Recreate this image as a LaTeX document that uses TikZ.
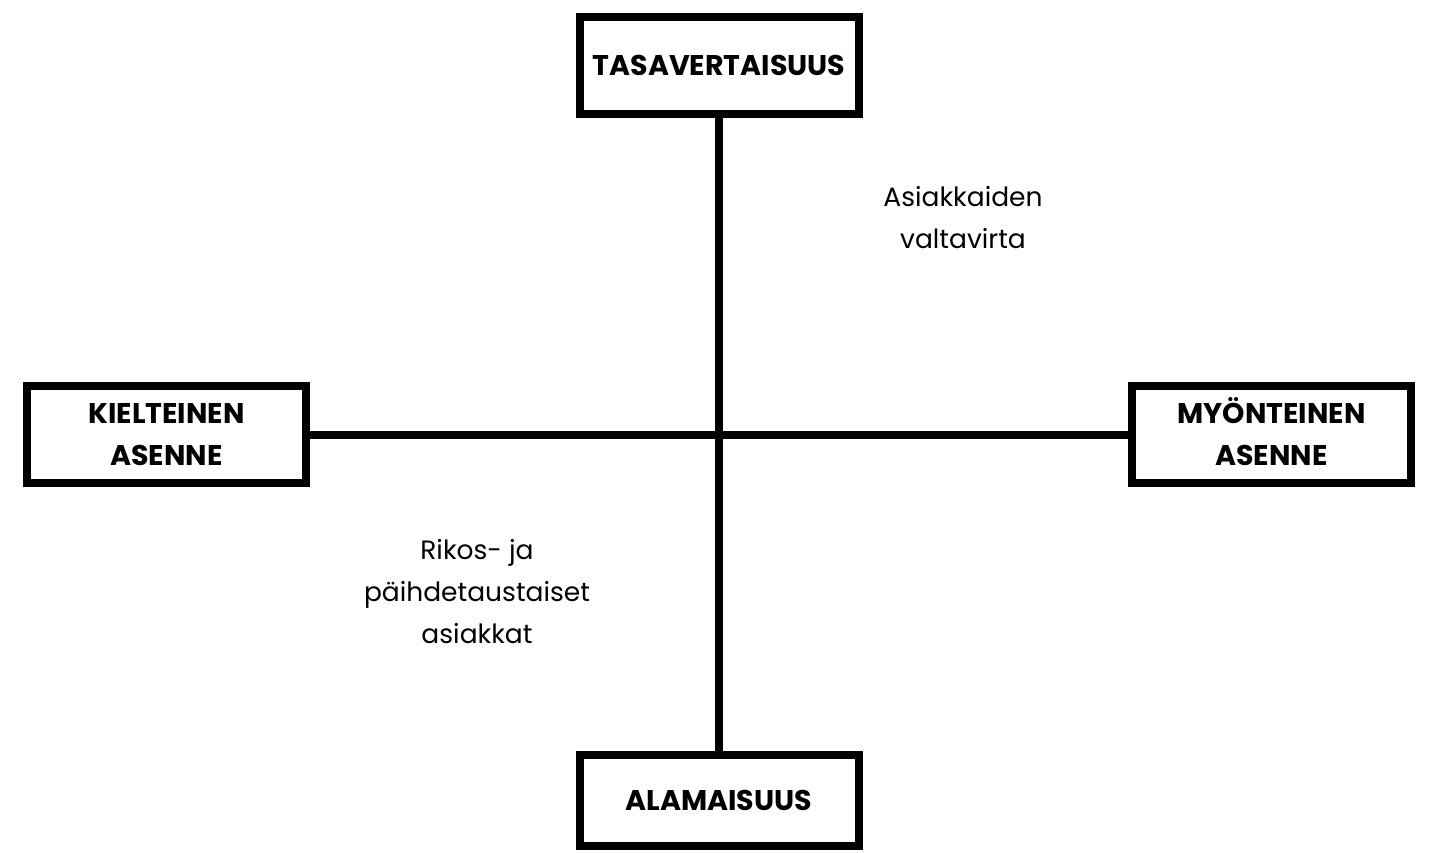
\documentclass[tikz,border=0pt]{standalone}
\usepackage{fontspec}
\setmainfont{Poppins}
\begin{document}
\begin{tikzpicture}[x=1pt,y=-1pt,
  box/.style={draw=black, line width=8pt, fill=white, minimum width=279pt, minimum height=97pt, inner sep=0pt, align=center, font=\fontsize{28.5}{42}\selectfont\bfseries},
  lbl/.style={align=center, inner sep=0pt, font=\fontsize{26.5}{42}\selectfont},
  axis/.style={line width=8pt}]
\useasboundingbox (0,0) rectangle (1430,852);
\fill[white] (0,0) rectangle (1430,852);
\node[box] (top) at (719,65) {\raisebox{-2pt}{TASAVERTAISUUS}};
\node[box, minimum height=91pt] (bot) at (719,800.5) {\raisebox{-5pt}{ALAMAISUUS}};
\node[box] (left) at (166.5,434.5) {KIELTEINEN\\ASENNE};
\node[box] (right) at (1271.5,434.5) {MY\smash{Ö}NTEINEN\\ASENNE};
\draw[axis] (top.south) -- (bot.north);
\draw[axis] (left.east) -- (right.west);
\node[lbl] (t1) at (963,218) {Asiakkaiden\\valtavirta};
\node[lbl] (t2) at (477,592) {Rikos- ja\\päihdetaustaiset\\asiakkat};
\end{tikzpicture}
\end{document}
